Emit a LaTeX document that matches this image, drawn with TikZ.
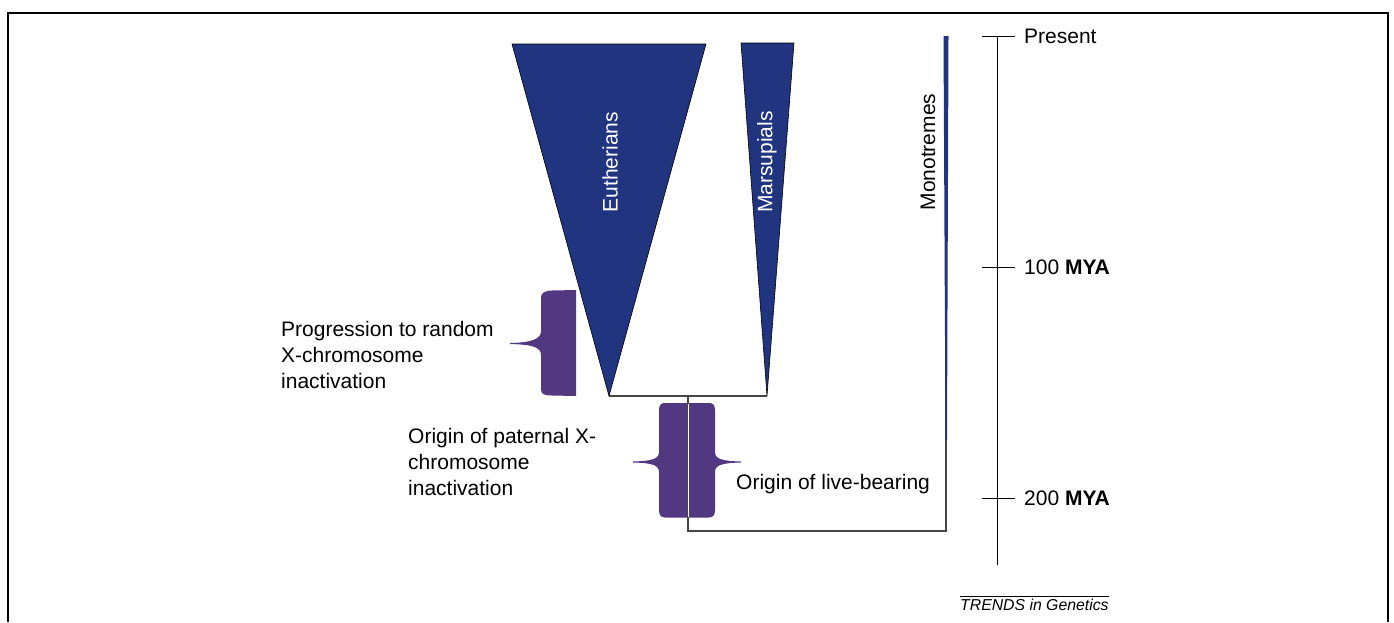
\documentclass[tikz,border=0pt]{standalone}
\usepackage{fontspec}
\setmainfont{Liberation Sans}
\definecolor{cladeblue}{RGB}{33,52,128}
\definecolor{xpurple}{RGB}{82,56,128}
\definecolor{treegrey}{RGB}{70,70,70}
\newcommand{\bigfont}{\fontsize{21}{26}\selectfont}
\begin{document}
\begin{tikzpicture}[x=1pt,y=-1pt,
  frame/.style={line width=2pt,black},
  clade/.style={fill=cladeblue,draw=black,line width=0.6pt,line join=miter},
  xbar/.style={fill=xpurple,draw=none},
  tree/.style={draw=treegrey,line width=1.4pt},
  axis/.style={draw=black,line width=1pt},
  lbl/.style={inner sep=0pt,font=\bigfont,text=black},
  cladelbl/.style={inner sep=0pt,font=\bigfont,rotate=90}]
\useasboundingbox (0,0) rectangle (1394,622);
% frame
\draw[frame] (8,622) -- (8,13) -- (1388,13) -- (1388,622);

% coordinates of the tree
\coordinate (eapex) at (609,396);
\coordinate (mapex) at (767,396);
\coordinate (split) at (688,396);
\coordinate (root) at (688,531);
\coordinate (mono) at (946,531);
\coordinate (monotop) at (946,300);

% purple bars (drawn under the tree)
\path[xbar] (576,290) -- (552,290.5) .. controls (544,291) and (541,293) .. (541,298)
  -- (541,331) .. controls (541,339) and (532,342.5) .. (510,343)
  -- (510,344) .. controls (532,344.5) and (541,347) .. (541,355)
  -- (541,389) .. controls (541,394) and (544,395.5) .. (552,395.5)
  -- (576,396) -- cycle;
\path[xbar] (665,403) -- (709,403) .. controls (713,403) and (715,405) .. (715,410)
  -- (715,452) .. controls (715,459) and (722,461) .. (741,461.5)
  -- (741,462.5) .. controls (722,463) and (715,465) .. (715,472)
  -- (715,510) .. controls (715,515) and (713,517.5) .. (709,517.5)
  -- (665,517.5) .. controls (661,517.5) and (659,515) .. (659,510)
  -- (659,472) .. controls (659,465) and (652,463) .. (633,462.5)
  -- (633,461.5) .. controls (652,461) and (659,459) .. (659,452)
  -- (659,410) .. controls (659,405) and (661,403) .. (665,403) -- cycle;

% tree lines
\draw[tree] (eapex) -- (mapex);
\draw[tree] (split) -- (root) -- (mono) -- (monotop);
\draw[white,line width=0.6pt] ([xshift=0.3pt]split |- 0,404) -- ([xshift=0.3pt]split |- 0,517);

% clades
\draw[clade] (512,44) -- (706,44) -- (eapex) -- cycle;
\draw[clade] (741,43) -- (794,43) -- (mapex) -- cycle;
\fill[cladeblue] (943.5,36) -- (948.5,36) -- (947,440) -- (945.5,440) -- cycle;

% clade labels
\node[cladelbl,text=white] (eut) at (610,162) {Eutherians};
\node[cladelbl,text=white] (mar) at (767,162) {Marsupials};
\node[cladelbl,text=black] (mon) at (928,152) {Monotremes};

% event labels
\node[lbl,anchor=base west] (random) at (281,336)
  {\begin{tabular}[t]{@{}l@{}}Progression to random\\X-chromosome\\inactivation\end{tabular}};
\node[lbl,anchor=base west] (paternal) at (408,443)
  {\begin{tabular}[t]{@{}l@{}}Origin of paternal X-\\chromosome\\inactivation\end{tabular}};
\node[lbl,anchor=base west] (live) at (736,489) {Origin of live-bearing};

% time axis
\coordinate (t0) at (997,36);
\coordinate (t1) at (997,267);
\coordinate (t2) at (997,498);
\coordinate (tend) at (997,565);
\draw[axis] (t0) -- (tend);
\draw[axis] (982,36) -- (1015,36);
\draw[axis] (982,267) -- (1015,267);
\draw[axis] (982,498) -- (1015,498);
\node[lbl,anchor=west] (present) at (1024,36) {Present};
\node[lbl,anchor=west] (mya100) at (1024,267) {100 \textbf{MYA}};
\node[lbl,anchor=west] (mya200) at (1024,498) {200 \textbf{MYA}};

% credit
\draw[line width=0.7pt,black] (960,596) -- (1109,596);
\node[inner sep=0pt,anchor=base west,font=\fontsize{15.8}{19}\selectfont\itshape] (credit) at (960,610) {TRENDS in Genetics};
\end{tikzpicture}
\end{document}
